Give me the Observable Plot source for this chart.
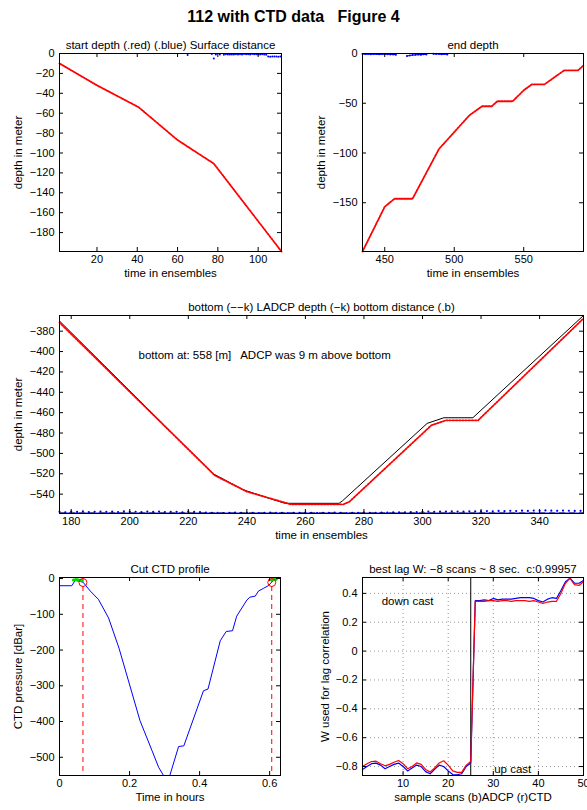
<!DOCTYPE html>
<html><head><meta charset="utf-8">
<script src="https://cdn.jsdelivr.net/npm/d3@7"></script>
<script src="https://cdn.jsdelivr.net/npm/@observablehq/plot@0.6"></script>
<style>
html,body{margin:0;padding:0;background:#fff;overflow:hidden;}
#fig{position:relative;width:587px;height:810px;font-family:"Liberation Sans",Arial,Helvetica,sans-serif;}
#title{position:absolute;left:0;top:8px;width:587px;text-align:center;font-weight:bold;font-size:16px;line-height:18px;white-space:pre;}
</style></head><body>
<div id="fig"><div id="title">112 with CTD data&nbsp;&nbsp;&nbsp;Figure 4</div></div>
<script>
// ---------- Panel 1: start depth ----------
const startEns   = [1.4, 20, 40.7, 60, 78, 111.6];
const startDepth = [-10, -32, -54, -87, -110.7, -199];
const surfEns  = [65, 77, 78, 79, 81, 83, 84, 85, 86, 87, 88, 89, 90, 91, 92, 93, 94, 95, 96, 97, 98, 99, 100, 101, 102, 103, 104, 105, 106, 107, 108, 109, 110, 111];
const surfDist = [-1.5, -0.5, -5, -1, -1, -1.2, -0.8, -1, -1.1, -0.9, -1, -0.7, -0.9, -0.8, -1, -0.6, -0.8, -0.7, -0.9, -0.6, -0.8, -0.7, -0.9, -1, -0.8, -1.1, -1.2, -3, -3.2, -3, -3.1, -3, -3.2, -3];
const p1xTicks = [20, 40, 60, 80, 100];
const p1yTicks = [0, -20, -40, -60, -80, -100, -120, -140, -160, -180];

// ---------- Panel 2: end depth ----------
const endEns   = [434, 450, 457, 470, 489, 511, 520, 527, 531, 542, 550, 556, 565, 579, 589, 593];
const endDepth = [-199, -154, -146, -146, -96, -62, -53, -53, -48, -48, -37, -31, -31, -17, -17, -12];
const endSurfEns  = [434, 436, 438, 440, 442, 444, 446, 448, 450, 452, 454, 456, 458, 466, 468, 470, 472, 474, 476, 478, 480, 485, 487, 489, 491, 493, 495];
const endSurfDist = [-0.5, -0.6, -0.4, -0.7, -0.5, -0.6, -0.8, -0.6, -0.5, -0.7, -0.9, -1.0, -1.2, -2.5, -2.0, -1.5, -1.3, -1.0, -1.2, -0.8, -1.0, -0.3, -0.5, -0.4, -0.8, -0.5, -1.0];
const p2xTicks = [450, 500, 550];
const p2yTicks = [0, -50, -100, -150];

// ---------- Panel 3: bottom ----------
const ladcpEns   = [176, 228.5, 239, 253, 271.5, 272.7, 301.6, 307.3, 317.2, 355];
const ladcpDepth = [-370, -520, -536, -549, -549, -546.5, -470.5, -465, -465, -364.6];
const redEns     = [176, 229, 240, 255, 273, 275, 303, 308, 319, 355];
const redDepth   = [-371.5, -521.5, -537.5, -550, -550, -547.5, -472.5, -467.5, -467.5, -367.5];
const bottomDepth = -558.6;
const bdEnsStart = 176, bdEnsStep = 2;
const bdDepth = [
  -557.4, -557.8, -557.2, -557.5, -557.0, -557.6, -557.3, -557.1, -557.5, -557.2, -557.6, -557.0, -557.4, -557.3, -557.7, -557.2, -557.5, -557.1, -557.6, -557.3, -557.4, -557.8, -557.2, -557.5, -557.6,
  -558.2, -558.4, -558.3, -558.5, -558.3, -558.2, -558.4, -558.3, -558.4, -558.5, -558.3, -558.2, -558.4, -558.3, -558.5, -558.4, -558.3, -558.2, -558.4, -558.5, -558.3, -558.4, -558.2, -558.3, -558.5, -558.4, -558.3, -558.2, -558.4, -558.3, -558.2, -558.0, -557.9,
  -557.9, -557.8, -557.6, -557.7, -557.4, -557.2, -557.3, -557.1, -557.2, -557.0, -557.1, -557.2, -556.9, -557.0, -556.8, -556.6, -556.9, -556.5, -556.7, -556.4, -556.6, -556.2, -556.5, -556.1, -556.3, -556.0, -556.2, -556.4, -556.1, -556.3, -556.5, -556.4
];
const p3Note = {ens: 203, depth: -404, text: "bottom at: 558 [m]\u00a0\u00a0 ADCP was 9 m above bottom"};
const p3xTicks = [180, 200, 220, 240, 260, 280, 300, 320, 340];
const p3yTicks = [-380, -400, -420, -440, -460, -480, -500, -520, -540];

// ---------- Panel 4: cut CTD profile ----------
const ctdTime  = [0, 0.035, 0.045, 0.067, 0.088, 0.111, 0.14, 0.17, 0.23, 0.264, 0.283, 0.297, 0.315, 0.34, 0.355, 0.411, 0.424, 0.459, 0.476, 0.494, 0.506, 0.535, 0.544, 0.559, 0.568, 0.583, 0.596, 0.606, 0.61];
const ctdPress = [-20, -20, -5, -10, -35, -58, -110, -195, -398, -481, -528, -551, -551, -470, -468, -314, -309, -174, -148, -146, -105, -60, -52, -49, -35, -27, -20, -10, -6];
const cutTimes = [0.067, 0.606];
const cutPress = [-11, -11];
const greenTime  = [0.040, 0.045, 0.050, 0.055, 0.060, 0.064, 0.606, 0.610, 0.614, 0.618];
const greenPress = [-4, -3, -3, -4, -5, -6, -4, -3, -2, -2];
const p4xTicks = [0, 0.2, 0.4, 0.6];
const p4yTicks = [0, -100, -200, -300, -400, -500];

// ---------- Panel 5: lag correlation ----------
const scans = [1,2,3,4,5,6,7,8,9,10,11,12,13,14,15,16,17,18,19,20,21,22,23,24,25,26,27,28,29,30,31,32,33,34,35,36,37,38,39,40,41,42,43,44,45,46,47,48,49,50];
const wADCP = [-0.82,-0.80,-0.78,-0.776,-0.79,-0.815,-0.80,-0.785,-0.776,-0.80,-0.83,-0.81,-0.79,-0.80,-0.835,-0.85,-0.82,-0.79,-0.80,-0.83,-0.855,-0.857,-0.85,-0.80,-0.775,
               0.35,0.35,0.355,0.35,0.365,0.355,0.36,0.36,0.36,0.365,0.37,0.37,0.37,0.365,0.35,0.34,0.36,0.37,0.365,0.42,0.48,0.505,0.47,0.47,0.49];
const wCTD  = [-0.80,-0.78,-0.765,-0.763,-0.78,-0.795,-0.785,-0.77,-0.758,-0.78,-0.815,-0.80,-0.775,-0.785,-0.82,-0.838,-0.81,-0.775,-0.76,-0.79,-0.83,-0.84,-0.84,-0.79,-0.765,
               0.345,0.345,0.345,0.35,0.35,0.345,0.35,0.35,0.345,0.35,0.35,0.35,0.345,0.35,0.34,0.33,0.34,0.345,0.345,0.40,0.47,0.505,0.46,0.455,0.48];
const castSplit = 25;
const castLabels = [{s: 11, w: 0.342, t: "down cast"}, {s: 34.3, w: -0.817, t: "up cast"}];
const p5xTicks = [10, 20, 30, 40, 50];
const p5yTicks = [-0.8, -0.6, -0.4, -0.2, 0, 0.2, 0.4];
const p5Grid = [10, 20, 30, 40];

// ---------- helpers ----------
const FONT = "Liberation Sans, Arial, Helvetica, sans-serif";
const fmt = d => (d < 0 ? "\u2212" + String(Math.abs(d)) : String(d));
const zipXY = (xs, ys) => xs.map((x, i) => ({x, y: ys[i]}));
const RED = "#ff0000", BLUE = "#0000ff", GREEN = "#00dd00";
const LBL = 11.5;

function makePanel(o) {
  const fw = o.width - o.ml - o.mr, fh = o.height - o.mt - o.mb, tl = 4;
  const marks = [
    ...o.marks,
    Plot.frame({stroke: "black", strokeWidth: 1}),
    Plot.tickX(o.xticks, {x: d => d, insetTop: fh - tl, stroke: "black"}),
    Plot.tickX(o.xticks, {x: d => d, insetBottom: fh - tl, stroke: "black"}),
    Plot.tickY(o.yticks, {y: d => d, insetRight: fw - tl, stroke: "black"}),
    Plot.tickY(o.yticks, {y: d => d, insetLeft: fw - tl, stroke: "black"}),
    Plot.text([o.title], {text: d => d, frameAnchor: "top", dy: -13, textAnchor: "middle", fontSize: LBL}),
    Plot.text([o.xlabel], {text: d => d, frameAnchor: "bottom", dy: 25, textAnchor: "middle", fontSize: LBL}),
    Plot.text([o.ylabel], {text: d => d, frameAnchor: "left", dx: o.ydx, rotate: -90, textAnchor: "middle", lineAnchor: "middle", fontSize: LBL})
  ];
  const svg = Plot.plot({
    width: o.width, height: o.height,
    marginLeft: o.ml, marginRight: o.mr, marginTop: o.mt, marginBottom: o.mb,
    style: {fontFamily: FONT, fontSize: "11px", color: "black", background: "transparent"},
    x: {domain: o.xdomain, ticks: o.xticks, tickFormat: fmt, tickSize: 0, tickPadding: 4, label: null},
    y: {domain: o.ydomain, ticks: o.yticks, tickFormat: fmt, tickSize: 0, tickPadding: 5, label: null},
    marks
  });
  const wrap = document.createElement("div");
  wrap.style.cssText = `position:absolute;left:${o.left}px;top:${o.top}px;`;
  wrap.appendChild(svg);
  document.getElementById("fig").appendChild(wrap);
}

// Panel 1
makePanel({
  left: 0, top: 28, width: 292, height: 262, ml: 59, mr: 11, mt: 25, mb: 39,
  xdomain: [1.4, 111.6], ydomain: [-199, 0], xticks: p1xTicks, yticks: p1yTicks,
  title: "start depth (.red) (.blue) Surface distance", xlabel: "time in ensembles", ylabel: "depth in meter", ydx: -41,
  marks: [
    Plot.line(zipXY(startEns, startDepth), {x: "x", y: "y", stroke: RED, strokeWidth: 1.8, strokeDasharray: "1.8,1.2"}),
    Plot.dot(zipXY(surfEns, surfDist), {x: "x", y: "y", r: 1, fill: BLUE, stroke: "none"})
  ]
});

// Panel 2
makePanel({
  left: 292, top: 28, width: 295, height: 262, ml: 70, mr: 4, mt: 25, mb: 39,
  xdomain: [434, 593], ydomain: [-199, 0], xticks: p2xTicks, yticks: p2yTicks,
  title: "end depth", xlabel: "time in ensembles", ylabel: "depth in meter", ydx: -41,
  marks: [
    Plot.line(zipXY(endEns, endDepth), {x: "x", y: "y", stroke: RED, strokeWidth: 1.8, strokeDasharray: "1.8,1.2"}),
    Plot.line(zipXY(endSurfEns, endSurfDist), {x: "x", y: "y", z: d => d.x < 462 ? 0 : d.x < 483 ? 1 : 2, stroke: BLUE, strokeWidth: 1.2}),
    Plot.dot(zipXY(endSurfEns, endSurfDist), {x: "x", y: "y", r: 1, fill: BLUE, stroke: "none"})
  ]
});

// Panel 3
const bdData = bdDepth.map((y, i) => ({x: bdEnsStart + bdEnsStep * i, y}));
makePanel({
  left: 0, top: 290, width: 587, height: 262, ml: 59, mr: 4, mt: 25, mb: 39,
  xdomain: [176, 355], ydomain: [-559, -364.6], xticks: p3xTicks, yticks: p3yTicks,
  title: "bottom (\u2212\u2212k) LADCP depth (\u2212k) bottom distance (.b)", xlabel: "time in ensembles", ylabel: "depth in meter", ydx: -41,
  marks: [
    Plot.dot(bdData, {x: "x", y: "y", r: 1.1, fill: BLUE, stroke: "none"}),
    Plot.ruleY([bottomDepth], {stroke: BLUE, strokeWidth: 1}),
    Plot.ruleY([bottomDepth], {stroke: "black", strokeWidth: 1, strokeDasharray: "6,4"}),
    Plot.line(zipXY(ladcpEns, ladcpDepth), {x: "x", y: "y", stroke: "black", strokeWidth: 1}),
    Plot.line(zipXY(redEns, redDepth), {x: "x", y: "y", stroke: RED, strokeWidth: 1.8, strokeDasharray: "1.6,1.6"}),
    Plot.text([p3Note], {x: "ens", y: "depth", text: "text", textAnchor: "start", fontSize: LBL})
  ]
});

// Panel 4
makePanel({
  left: 0, top: 552, width: 292, height: 258, ml: 59, mr: 12, mt: 25, mb: 35,
  xdomain: [0, 0.631], ydomain: [-551, 3], xticks: p4xTicks, yticks: p4yTicks,
  title: "Cut CTD profile", xlabel: "Time in hours", ylabel: "CTD pressure [dBar]", ydx: -41,
  marks: [
    Plot.ruleX(cutTimes, {stroke: RED, strokeWidth: 1, strokeDasharray: "5,4"}),
    Plot.line(zipXY(ctdTime, ctdPress), {x: "x", y: "y", stroke: BLUE, strokeWidth: 1}),
    Plot.dot(zipXY(greenTime, greenPress), {x: "x", y: "y", r: 1.6, fill: GREEN, stroke: "none"}),
    Plot.dot(zipXY(cutTimes, cutPress), {x: "x", y: "y", r: 4, stroke: RED, fill: "none", strokeWidth: 1})
  ]
});

// Panel 5
makePanel({
  left: 292, top: 552, width: 295, height: 258, ml: 70, mr: 4, mt: 25, mb: 35,
  xdomain: [1, 50], ydomain: [-0.862, 0.51], xticks: p5xTicks, yticks: p5yTicks,
  title: "best lag W: \u22128 scans ~ 8 sec.\u00a0\u00a0c:0.99957", xlabel: "sample scans (b)ADCP (r)CTD", ylabel: "W used for lag correlation", ydx: -37,
  marks: [
    Plot.ruleX(p5Grid, {stroke: "#999", strokeWidth: 1, strokeDasharray: "1,3"}),
    Plot.ruleY(p5yTicks, {stroke: "#999", strokeWidth: 1, strokeDasharray: "1,3"}),
    Plot.ruleX([castSplit], {stroke: "black", strokeWidth: 1}),
    Plot.line(zipXY(scans, wADCP), {x: "x", y: "y", stroke: BLUE, strokeWidth: 1.2}),
    Plot.line(zipXY(scans, wCTD), {x: "x", y: "y", stroke: RED, strokeWidth: 1.2}),
    Plot.text(castLabels, {x: "s", y: "w", text: "t", fontSize: LBL})
  ]
});
</script>
</body></html>
